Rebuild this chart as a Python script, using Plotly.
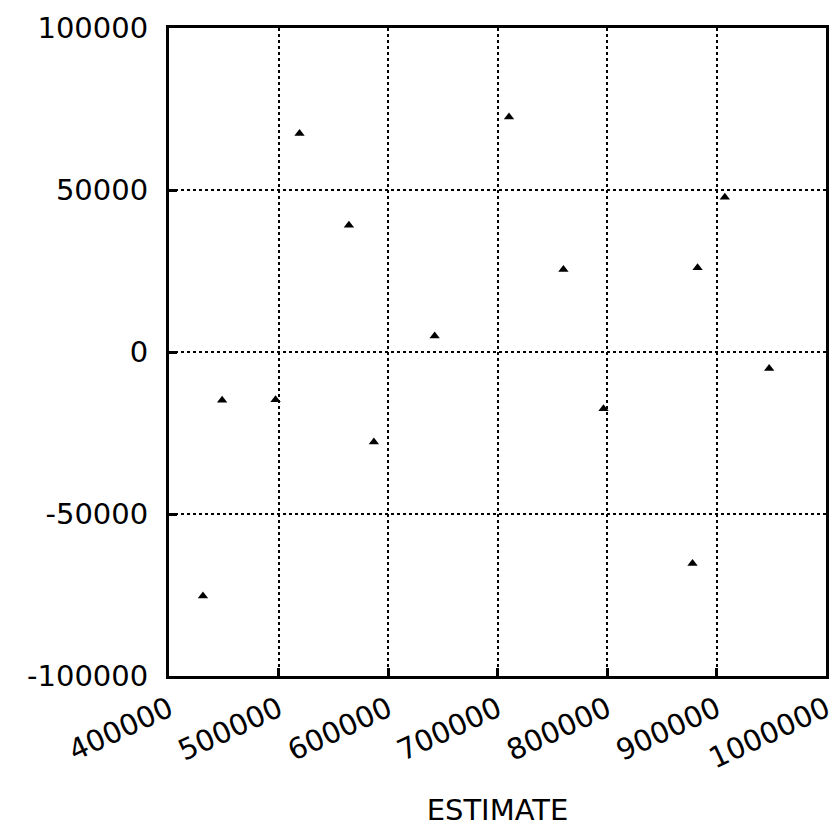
import plotly.graph_objects as go

# Data
estimate = [431000, 448500, 497300, 519200, 564300, 587100, 642600,
            710500, 760200, 796800, 878100, 882700, 907600, 948100]
residual = [-75300, -14900, -14700, 67400, 39100, -27800, 4900,
            72500, 25500, -17500, -65300, 26000, 47800, -5100]

x_ticks = [400000, 500000, 600000, 700000, 800000, 900000, 1000000]
y_ticks = [-100000, -50000, 0, 50000, 100000]

FONT = "DejaVu Sans"

fig = go.Figure()
fig.add_trace(go.Scatter(
    x=estimate, y=residual, mode="markers",
    marker=dict(symbol="triangle-up", size=9, color="black"),
    showlegend=False,
))

axis_common = dict(
    showline=True, linecolor="black", linewidth=3, mirror=True,
    showgrid=True, gridcolor="black", gridwidth=2, griddash="dot",
    zeroline=False,
    ticks="inside", ticklen=8, tickwidth=3, tickcolor="black",
    tickfont=dict(family=FONT, size=29, color="black"),
)

fig.update_xaxes(
    range=[400000, 1000000], tickvals=x_ticks,
    ticktext=[str(v) for v in x_ticks],
    tickangle=-25, ticklabelstandoff=2,
    title=dict(text="ESTIMATE", font=dict(family=FONT, size=29, color="black"),
               standoff=52),
    **axis_common,
)
fig.update_yaxes(
    range=[-100000, 100000], tickvals=y_ticks,
    ticktext=[str(v) for v in y_ticks],
    ticklabelstandoff=12,
    **axis_common,
)

# page body has an 8px default margin, so the figure is sized to fit
fig.update_layout(
    width=831, height=819,
    margin=dict(l=161, r=13, t=20, b=151, autoexpand=False),
    paper_bgcolor="white", plot_bgcolor="white",
    font=dict(family=FONT, color="black"),
)

fig.write_html("out.html")
